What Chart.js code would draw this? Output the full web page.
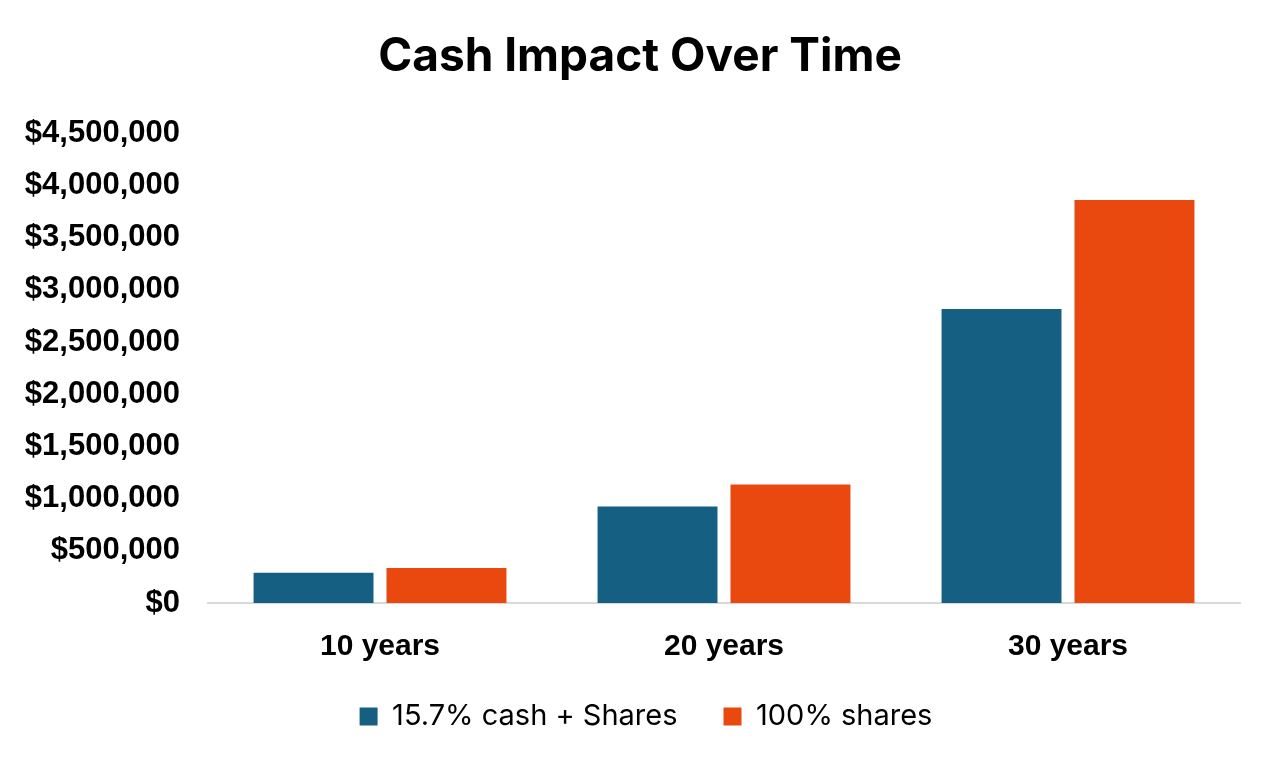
<!DOCTYPE html>
<html>
<head>
<meta charset="utf-8">
<script src="https://cdn.jsdelivr.net/npm/chart.js@4"></script>
<style>
  html, body { margin: 0; padding: 0; background: #fff; }
  #wrap { width: 1280px; height: 768px; }
</style>
</head>
<body>
<div id="wrap"><canvas id="chart"></canvas></div>
<script>
const categories = ['10 years', '20 years', '30 years'];
const cashShares = [290000, 925000, 2815000];
const allShares = [336000, 1135000, 3860000];
const seriesNames = ['15.7% cash + Shares', '100% shares'];

// after layout: lift the legend (tight gap under the x labels) and
// re-centre title and legend on the page, as the left padding is uneven
const boxNudge = {
    id: 'boxNudge',
    afterLayout(chart) {
        const lg = chart.legend;
        lg.top -= 27; lg.bottom -= 27;
        lg.left += 21; lg.right += 21;
        const tt = chart.titleBlock;
        tt.left += 15; tt.right += 15;
    }
};

const ctx = document.getElementById('chart').getContext('2d');
new Chart(ctx, {
    type: 'bar',
    data: {
        labels: categories,
        datasets: [
            { label: seriesNames[0], data: cashShares, backgroundColor: '#156082' },
            { label: seriesNames[1], data: allShares, backgroundColor: '#E9480F' }
        ]
    },
    options: {
        responsive: true,
        maintainAspectRatio: false,
        animation: false,
        categoryPercentage: 0.773,
        barPercentage: 0.902,
        layout: { padding: { left: 10, right: 40, top: 20, bottom: 0 } },
        scales: {
            x: {
                grid: { display: false },
                border: { color: '#d9d9d9', width: 2 },
                ticks: {
                    color: '#000',
                    padding: 18,
                    font: { family: 'Liberation Sans', size: 30, weight: 'bold' }
                }
            },
            y: {
                min: 0,
                max: 4500000,
                grid: { display: false },
                border: { display: false },
                afterFit: axis => { axis.width = 198; },
                ticks: {
                    stepSize: 500000,
                    color: '#000',
                    padding: 20,
                    font: { family: 'Liberation Sans', size: 31, weight: 'bold' },
                    callback: v => '$' + v.toLocaleString('en-US')
                }
            }
        },
        plugins: {
            title: {
                display: true,
                text: 'Cash Impact Over Time',
                color: '#000',
                font: { family: 'Inter', size: 46, weight: 'bold' },
                padding: { top: 10, bottom: 48 }
            },
            legend: {
                position: 'bottom',
                labels: {
                    color: '#000',
                    boxWidth: 18,
                    boxHeight: 18,
                    padding: 46,
                    font: { family: 'Inter', size: 29 }
                }
            },
            tooltip: { enabled: false }
        }
    },
    plugins: [boxNudge]
});
</script>
</body>
</html>
